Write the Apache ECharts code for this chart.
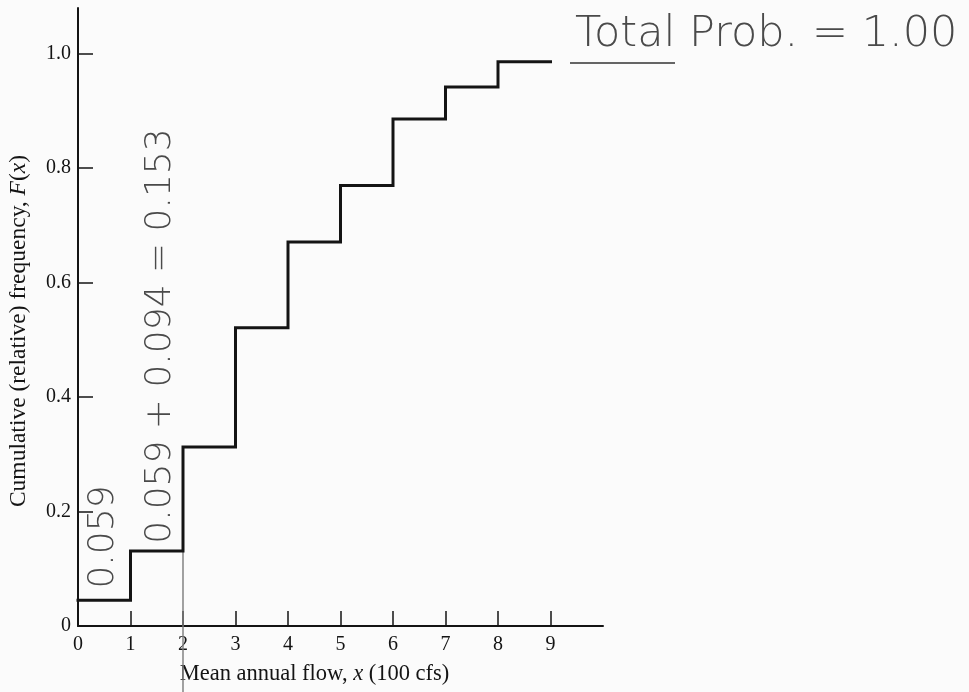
<!DOCTYPE html>
<html>
<head>
<meta charset="utf-8">
<script src="https://cdn.jsdelivr.net/npm/echarts@6/dist/echarts.min.js"></script>
<style>
  html, body { margin: 0; padding: 0; background: #fbfbfb; }
  #chart { width: 969px; height: 692px; }
</style>
</head>
<body>
<div id="chart"></div>
<script>
// ---- data ----
var flowClasses = [0, 1, 2, 3, 4, 5, 6, 7, 8];           // left edge of each class (100 cfs)
var cumulativeFreq = [0.045, 0.131, 0.313, 0.521, 0.671, 0.770, 0.886, 0.942, 0.986];
var lastClassEnd = 9;
var xTickValues = [0, 1, 2, 3, 4, 5, 6, 7, 8, 9];
var xTickLabels = ['0', '1', '2', '3', '4', '5', '6', '7', '8', '9'];
var yTickValues = [0, 0.2, 0.4, 0.6, 0.8, 1.0];
var yTickLabels = ['0', '0.2', '0.4', '0.6', '0.8', '1.0'];
var markedClass = 2;   // pencil line drawn at x = 2
var noteSingle = '0.059';
var noteSum = '0.059 + 0.094 = 0.153';
var noteTotal = 'Total Prob. = 1.00';

// ---- build the step series ----
var stepData = flowClasses.map(function (x, i) { return [x, cumulativeFreq[i]]; });
stepData.push([lastClassEnd, cumulativeFreq[cumulativeFreq.length - 1]]);

var ink = '#141414';
var pencil = '#4a4a4a';
var serif = '"Liberation Serif", "Times New Roman", serif';
var hand = '"DejaVu Sans", sans-serif';

var chart = echarts.init(document.getElementById('chart'), null, { renderer: 'canvas' });

var option = {
  backgroundColor: '#fbfbfb',
  animation: false,
  grid: { left: 78, right: 366, top: 8, bottom: 66, containLabel: false, outerBoundsMode: 'none' },
  xAxis: {
    type: 'value', min: 0, max: 10, interval: 1,
    name: 'Mean annual flow, {i|x} (100 cfs)',
    nameLocation: 'middle', nameGap: 37,
    nameTextStyle: {
      fontFamily: serif, fontSize: 22.5, color: ink, padding: [0, 52, 0, 0],
      rich: { i: { fontFamily: serif, fontSize: 22.5, fontStyle: 'italic', color: ink } }
    },
    axisLine: { show: true, lineStyle: { color: ink, width: 2 } },
    axisTick: { show: true, inside: true, length: 15, customValues: xTickValues.slice(1), lineStyle: { color: ink, width: 1.5 } },
    axisLabel: {
      customValues: xTickValues, margin: 9,
      fontFamily: serif, fontSize: 20, color: ink,
      formatter: function (v) { var k = xTickValues.indexOf(v); return k >= 0 ? xTickLabels[k] : ''; }
    },
    splitLine: { show: false }
  },
  yAxis: {
    type: 'value', min: 0, max: 1.08, interval: 0.2,
    name: 'Cumulative (relative) frequency, {i|F}({i|x})',
    nameLocation: 'middle', nameGap: 47, nameRotate: 90,
    nameTextStyle: {
      fontFamily: serif, fontSize: 23.5, color: ink, padding: [0, 28, 0, 0],
      rich: { i: { fontFamily: serif, fontSize: 23.5, fontStyle: 'italic', color: ink } }
    },
    axisLine: { show: true, lineStyle: { color: ink, width: 2 } },
    axisTick: { show: true, inside: true, length: 15, customValues: yTickValues.slice(1), lineStyle: { color: ink, width: 1.5 } },
    axisLabel: {
      customValues: yTickValues, margin: 7,
      fontFamily: serif, fontSize: 20, color: ink,
      formatter: function (v) {
        for (var k = 0; k < yTickValues.length; k++) { if (Math.abs(yTickValues[k] - v) < 1e-6) return yTickLabels[k]; }
        return '';
      }
    },
    splitLine: { show: false }
  },
  series: [{
    type: 'line',
    step: 'end',
    data: stepData,
    symbol: 'none',
    lineStyle: { color: ink, width: 3, cap: 'square', join: 'miter' },
    silent: true,
    z: 3
  }]
};
chart.setOption(option);

// pencil annotations
function drawNotes() {
  var top = chart.convertToPixel({ gridIndex: 0 }, [markedClass, cumulativeFreq[flowClasses.indexOf(markedClass) - 1]]);
  var h = chart.getHeight();
  chart.setOption({
    graphic: [
      { type: 'line', shape: { x1: top[0], y1: top[1], x2: top[0], y2: h }, style: { stroke: '#7a7a7a', lineWidth: 1.4 }, z: 1 },
      { type: 'text', x: 104, y: 537, rotation: Math.PI / 2,
        style: { text: noteSingle, font: '200 36px ' + hand, fill: pencil, align: 'center', verticalAlign: 'middle' } },
      { type: 'text', x: 161, y: 336, rotation: Math.PI / 2,
        style: { text: noteSum, font: '200 36px ' + hand, fill: pencil, align: 'center', verticalAlign: 'middle' } },
      { type: 'text', x: 575, y: 35,
        style: { text: noteTotal, font: '200 43px ' + hand, fill: pencil, align: 'left', verticalAlign: 'middle' } },
      { type: 'line', shape: { x1: 570, y1: 63, x2: 675, y2: 63 }, style: { stroke: pencil, lineWidth: 2, opacity: 0.85 } }
    ]
  });
}
drawNotes();
</script>
</body>
</html>
